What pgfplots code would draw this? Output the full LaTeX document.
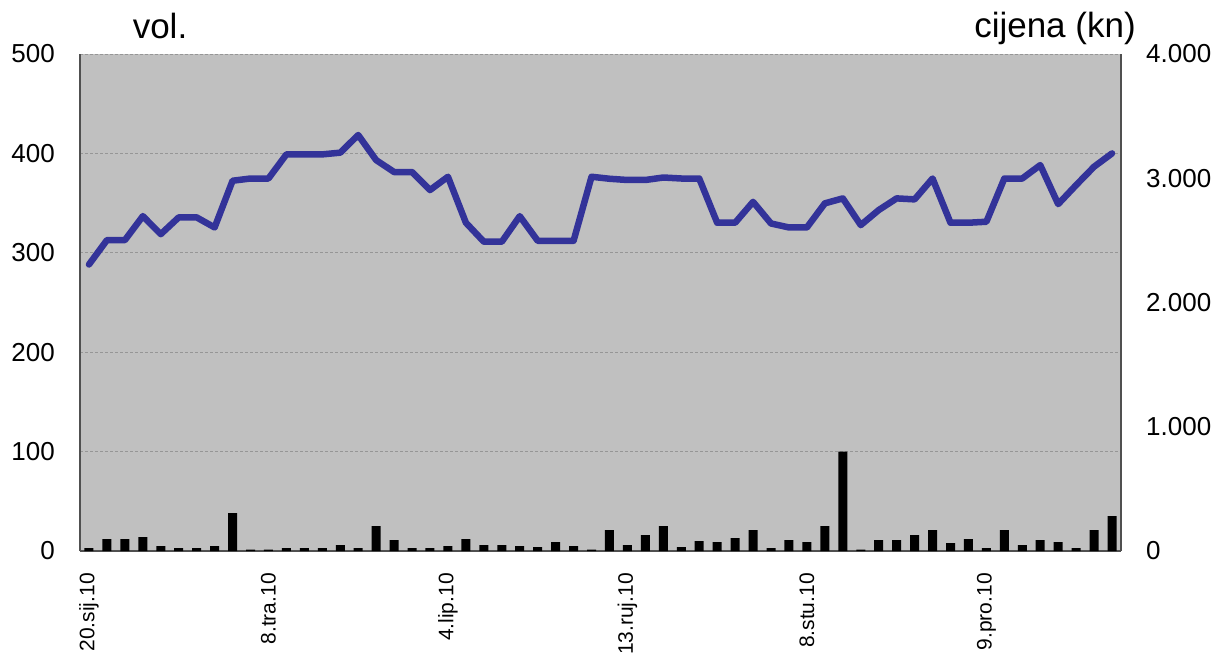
\documentclass[border=0pt]{standalone}
\usepackage{fontspec}
\setmainfont{Liberation Sans}
\usepackage{pgfplots}
\usepackage{pgfplotstable}
\pgfplotsset{compat=1.18}
\definecolor{bg}{RGB}{192,192,192}
\definecolor{gridc}{RGB}{150,150,150}
\definecolor{axc}{RGB}{80,80,80}
\definecolor{linec}{RGB}{51,51,153}

\pgfplotstableread{
x vol
0 3
1 12
2 12
3 14
4 5
5 3
6 3
7 5
8 38
9 1.5
10 1.5
11 3
12 3
13 3
14 6
15 3
16 25
17 11
18 3
19 3
20 5
21 12
22 6
23 6
24 5
25 4
26 9
27 5
28 1.5
29 21
30 6
31 16
32 25
33 4
34 10
35 9
36 13
37 21
38 3
39 11
40 9
41 25
42 100
43 1.5
44 11
45 11
46 16
47 21
48 8
49 12
50 3
51 21
52 6
53 11
54 9
55 3
56 21
57 35
}\voltable

\pgfplotstableread{
x price
0 2306
1 2502
2 2502
3 2695
4 2550
5 2685
6 2685
7 2604
8 2980
9 2998
10 2998
11 3192
12 3192
13 3192
14 3206
15 3348
16 3146
17 3050
18 3050
19 2905
20 3012
21 2642
22 2489
23 2489
24 2695
25 2497
26 2497
27 2497
28 3012
29 2996
30 2986
31 2986
32 3006
33 2998
34 2998
35 2642
36 2642
37 2810
38 2636
39 2604
40 2604
41 2798
42 2838
43 2623
44 2744
45 2838
46 2830
47 2998
48 2642
49 2642
50 2650
51 2998
52 2998
53 3106
54 2792
55 2945
56 3093
57 3200
}\pricetable

\begin{document}
\begin{tikzpicture}
\pgfplotsset{
  every axis/.append style={
    scale only axis, width=1041pt, height=497pt,
    xmin=-0.5, xmax=57.5,
    major tick length=0pt,
    yticklabel style={inner sep=0pt, font=\fontsize{26}{26}\selectfont, /pgf/number format/assume math mode=true},
    yticklabel shift=25pt,
  }
}
\begin{axis}[
  name=ax,
  ymin=0, ymax=500,
  ytick={0,100,...,500},
  axis background/.style={fill=bg},
  axis x line*=bottom, axis y line*=left,
  axis line style={axc, line width=1.2pt, -},
  ymajorgrids,
  major grid style={gridc, dash pattern=on 3pt off 2pt, line width=0.9pt},
  xtick={0,10,20,30,40,50},
  xticklabels={20.sij.10, 8.tra.10, 4.lip.10, 13.ruj.10, 8.stu.10, 9.pro.10},
  xticklabel style={rotate=90, anchor=east, inner sep=0pt, font=\fontsize{21}{21}\selectfont},
  xticklabel shift=22pt,
]
\addplot[ybar, bar width=9pt, fill=black, draw=none] table[x=x, y=vol] {\voltable};
\end{axis}
\begin{axis}[
  ymin=0, ymax=4000,
  axis x line=none, axis y line*=right,
  axis line style={axc, line width=1.2pt, -},
  ytick={0,1000,2000,3000,4000},
  yticklabels={0,1.000,2.000,3.000,4.000},
  yticklabel style={anchor=west},
]
\addplot[linec, line width=6.5pt, line join=round, line cap=round] table[x=x, y=price] {\pricetable};
\end{axis}
\node[anchor=base, font=\fontsize{35}{35}\selectfont] at ([xshift=80pt,yshift=15pt]ax.north west) {vol.};
\node[anchor=base, font=\fontsize{35}{35}\selectfont] at ([xshift=-66pt,yshift=16pt]ax.north east) {cijena (kn)};
\path ([xshift=-80pt,yshift=54pt]ax.north west) rectangle ([xshift=101pt,yshift=-104pt]ax.south east);
\end{tikzpicture}
\end{document}
